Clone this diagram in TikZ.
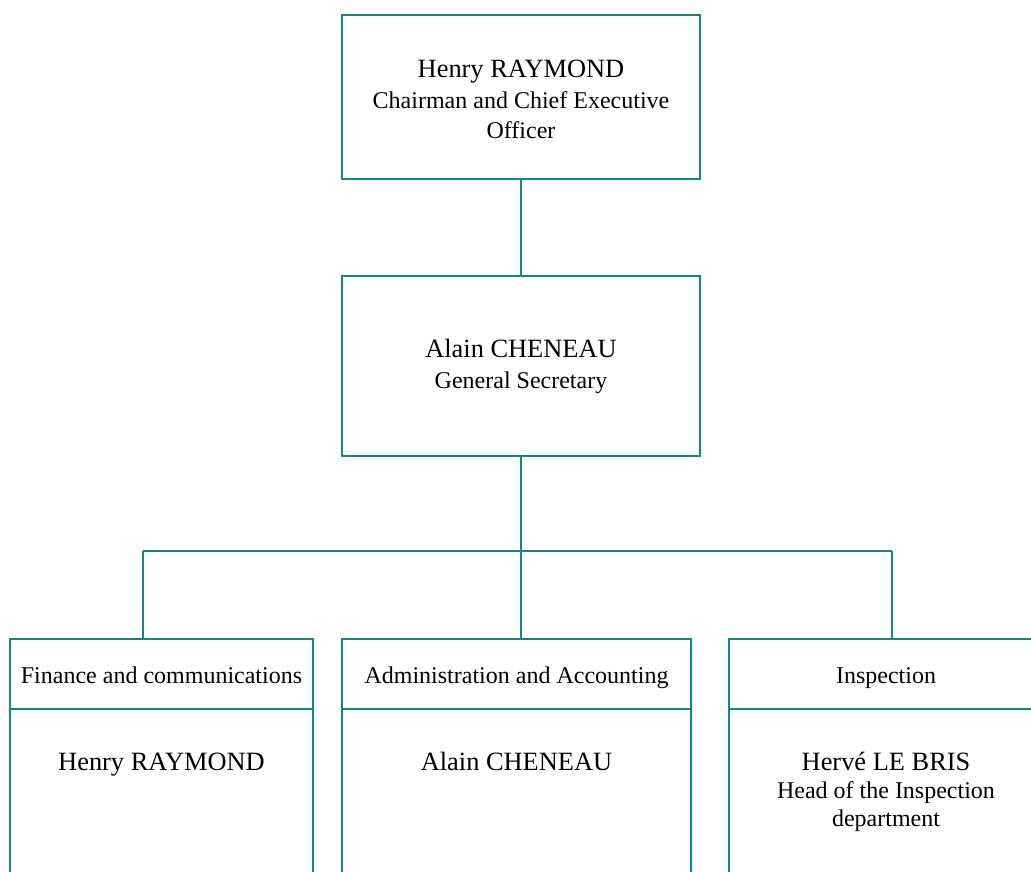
\documentclass[tikz,border=0pt]{standalone}
\usepackage{fontspec}
\setmainfont{Liberation Serif}
\definecolor{tealline}{RGB}{16,136,136}
\begin{document}
\begin{tikzpicture}[x=1bp,y=-1bp,
  box/.style={draw=tealline, line width=2.6bp, inner sep=0pt, outer sep=0pt, anchor=north west},
  nametext/.style={font=\fontsize{26.4bp}{30bp}\selectfont, anchor=base, inner sep=0pt},
  subtext/.style={font=\fontsize{24bp}{28bp}\selectfont, anchor=base, inner sep=0pt},
  link/.style={draw=tealline, line width=2.6bp}]
\useasboundingbox (0,0) rectangle (1031,872);
% top box
\node[box, minimum width=358bp, minimum height=164bp] (ceo) at (342,15) {};
\node[nametext] (ceoname) at (521,77) {Henry RAYMOND};
\node[subtext] (ceorole1) at (521,108) {Chairman and Chief Executive};
\node[subtext] (ceorole2) at (521,138) {Officer};
% middle box
\node[box, minimum width=358bp, minimum height=180bp] (sec) at (342,276) {};
\node[nametext] (secname) at (521,357) {Alain CHENEAU};
\node[subtext] (secrole) at (521,388) {General Secretary};
% bottom headers
\node[box, minimum width=303bp, minimum height=70bp] (h1) at (10,639) {};
\node[box, minimum width=349bp, minimum height=70bp] (h2) at (342,639) {};
\node[box, minimum width=314bp, minimum height=70bp] (h3) at (729,639) {};
\node[subtext] (h1t) at (161.5,683) {Finance and communications};
\node[subtext] (h2t) at (516.5,683) {Administration and Accounting};
\node[subtext] (h3t) at (886,683) {Inspection};
% bottom bodies
\node[box, minimum width=303bp, minimum height=200bp] (b1) at (10,709) {};
\node[box, minimum width=349bp, minimum height=200bp] (b2) at (342,709) {};
\node[box, minimum width=314bp, minimum height=200bp] (b3) at (729,709) {};
\node[nametext] (b1t) at (161.5,770) {Henry RAYMOND};
\node[nametext] (b2t) at (516.5,770) {Alain CHENEAU};
\node[nametext] (b3t) at (886,770) {Hervé LE BRIS};
\node[subtext] (b3r1) at (886,798) {Head of the Inspection};
\node[subtext] (b3r2) at (886,826) {department};
% connectors
\path (sec.south) ++(0,95) coordinate (busM);
\coordinate (busL) at (143,551);
\coordinate (busR) at (892,551);
\draw[link] (ceo.south) -- (sec.north);
\draw[link] (sec.south) -- (busM);
\draw[link] (busL |- busM) -- (busR |- busM);
\draw[link] (busL) -- (busL |- h1.north);
\draw[link] (busM) -- (busM |- h2.north);
\draw[link] (busR) -- (busR |- h3.north);
\end{tikzpicture}
\end{document}
